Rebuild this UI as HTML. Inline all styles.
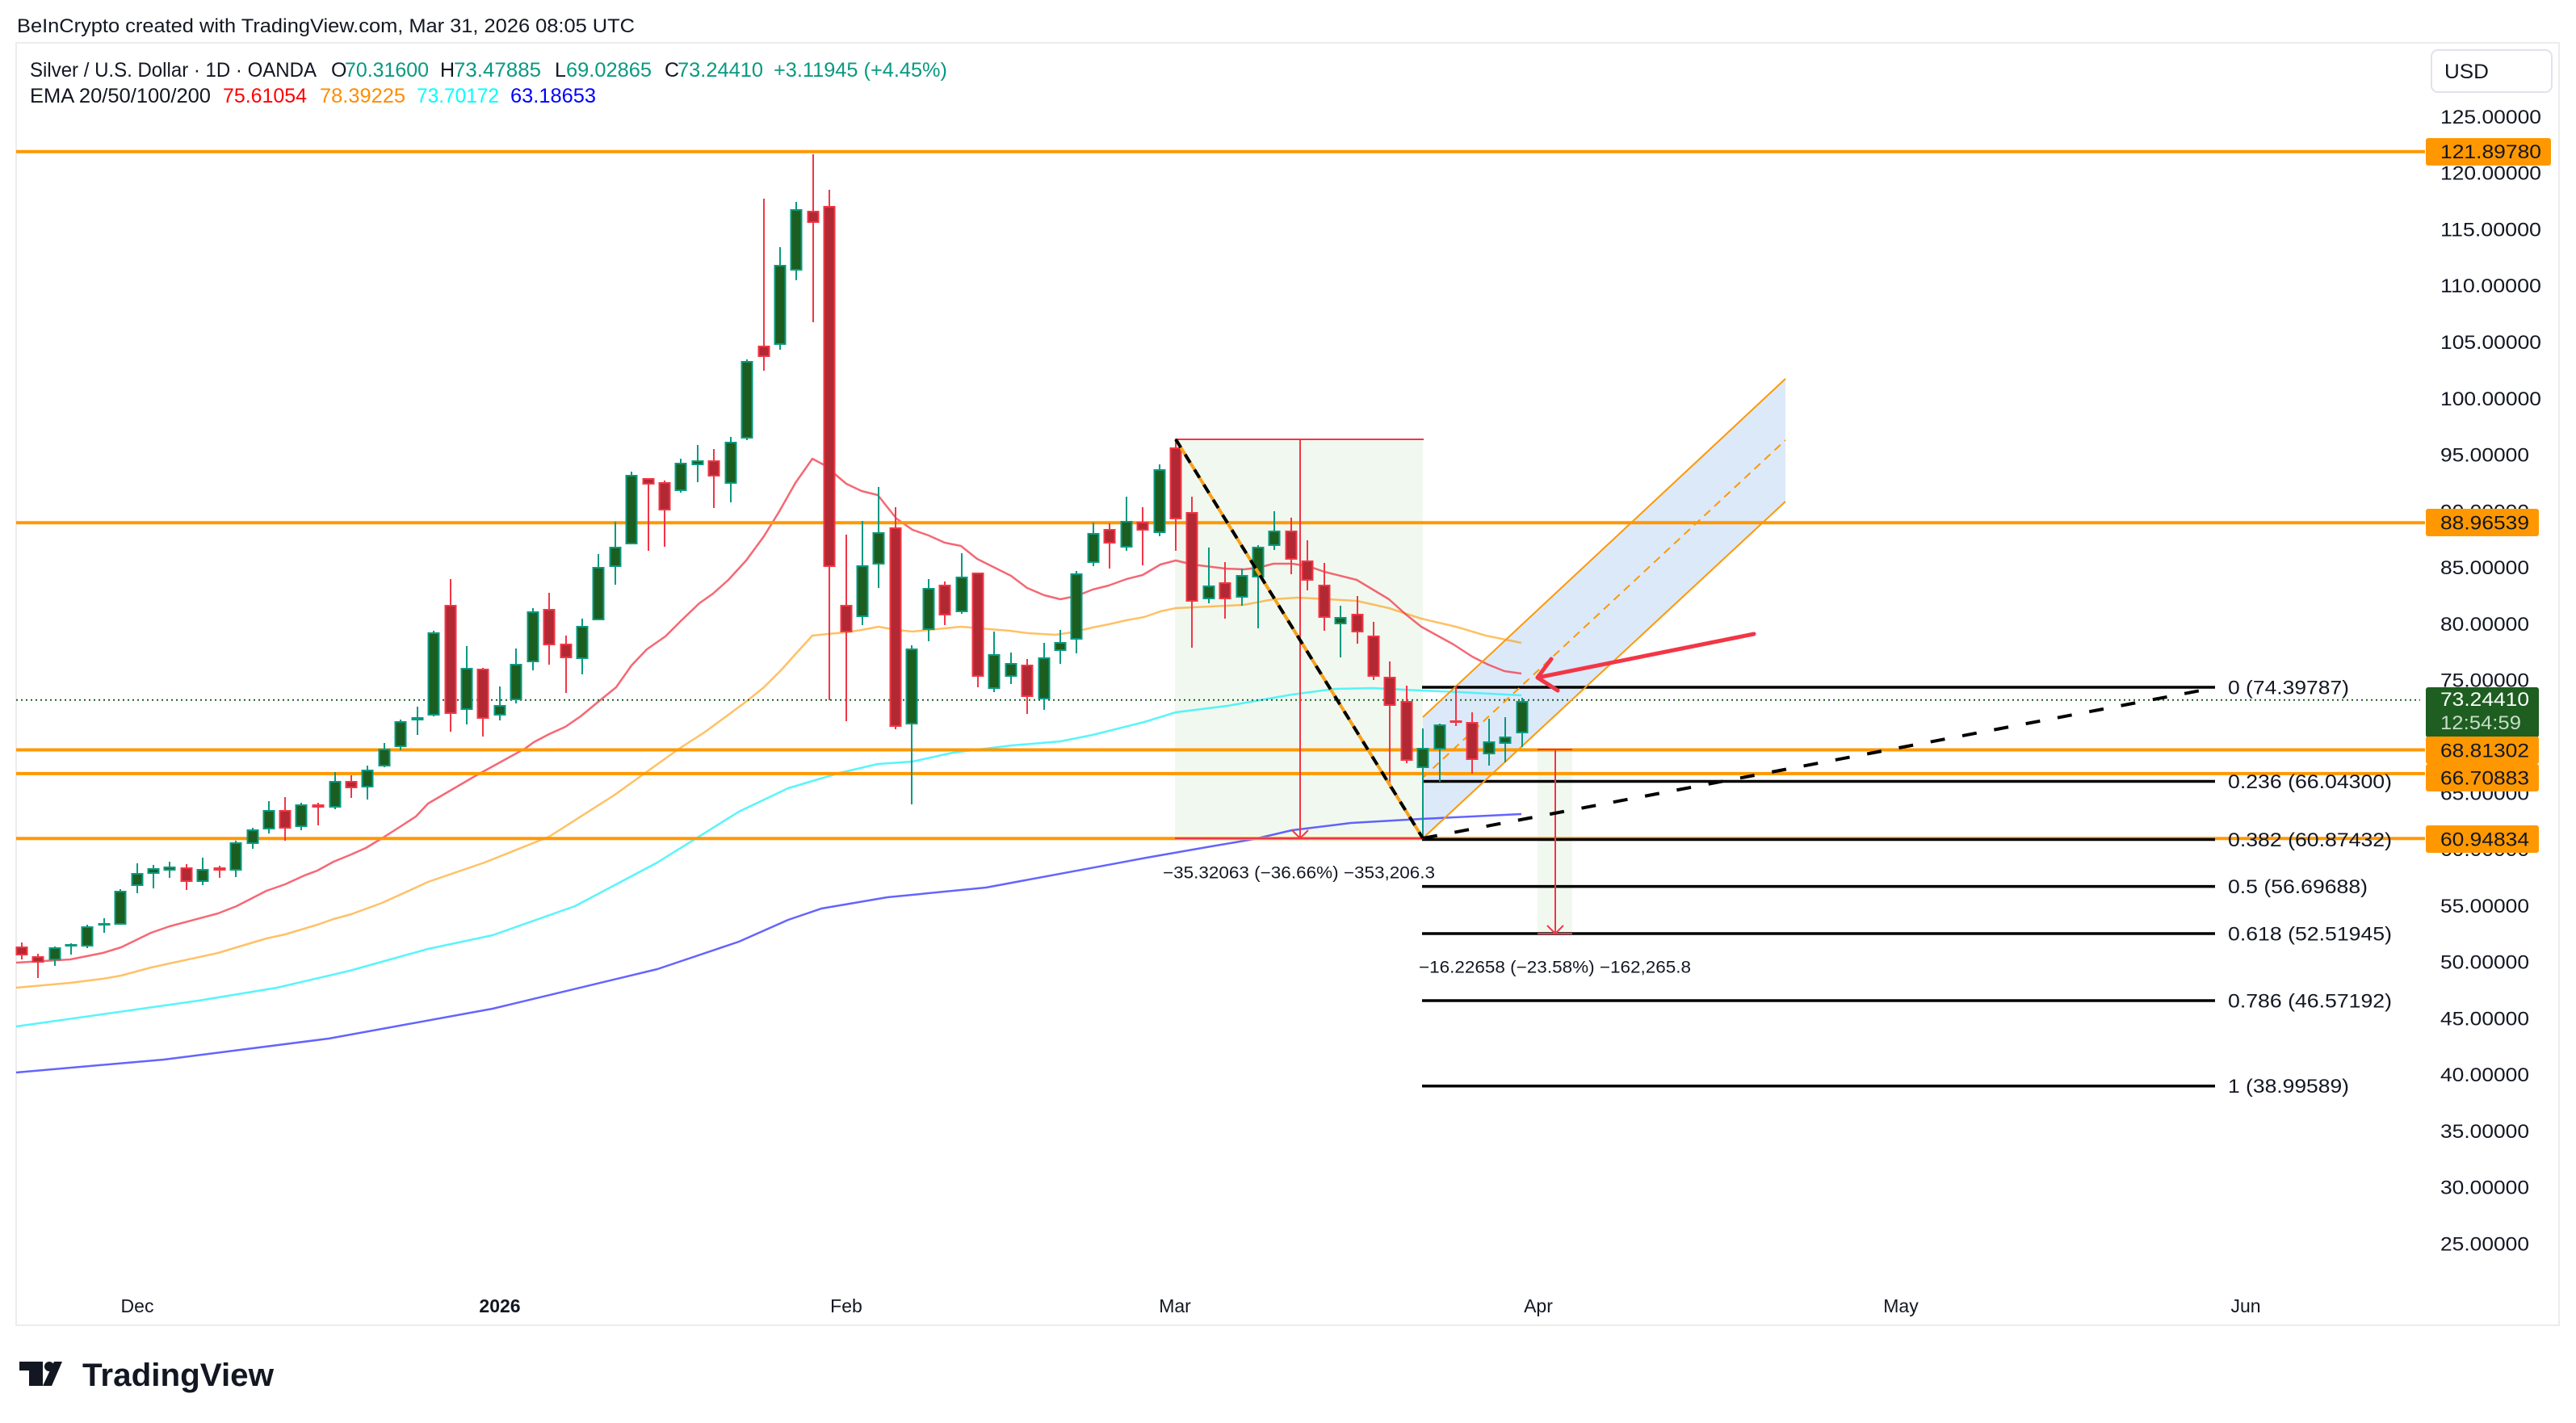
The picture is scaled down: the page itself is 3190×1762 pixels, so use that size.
<!DOCTYPE html>
<html>
<head>
<meta charset="utf-8">
<style>
html,body{margin:0;padding:0;background:#fff;}
svg{display:block;}
text{font-family:"Liberation Sans",Arial,sans-serif;}
.g line{stroke:#089981;stroke-width:2;}
.g rect{fill:#1b5e20;stroke:#089981;stroke-width:2;}
.r line{stroke:#f23645;stroke-width:2;}
.r rect{fill:#b22833;stroke:#f23645;stroke-width:2;}
.ax{font-size:24px;fill:#131722;}
.fib{font-size:24px;fill:#131722;}
</style>
</head>
<body>
<svg width="3190" height="1762" viewBox="0 0 3190 1762" xmlns="http://www.w3.org/2000/svg">
<rect x="0" y="0" width="3190" height="1762" fill="#ffffff"/>
<!-- header -->
<text x="21" y="40" font-size="24" fill="#131722" textLength="765" lengthAdjust="spacingAndGlyphs">BeInCrypto created with TradingView.com, Mar 31, 2026 08:05 UTC</text>
<!-- panel border -->
<rect x="20" y="53" width="3149" height="1588" fill="none" stroke="#ececec" stroke-width="2"/>

<!-- legend -->
<text x="37" y="95" font-size="25" fill="#131722" textLength="355" lengthAdjust="spacingAndGlyphs">Silver / U.S. Dollar · 1D · OANDA</text>
<text x="410" y="95" font-size="25" fill="#131722">O</text>
<text x="427" y="95" font-size="25" fill="#089981" textLength="104" lengthAdjust="spacingAndGlyphs">70.31600</text>
<text x="545" y="95" font-size="25" fill="#131722">H</text>
<text x="562" y="95" font-size="25" fill="#089981" textLength="108" lengthAdjust="spacingAndGlyphs">73.47885</text>
<text x="687" y="95" font-size="25" fill="#131722">L</text>
<text x="701" y="95" font-size="25" fill="#089981" textLength="106" lengthAdjust="spacingAndGlyphs">69.02865</text>
<text x="823" y="95" font-size="25" fill="#131722">C</text>
<text x="839" y="95" font-size="25" fill="#089981" textLength="106" lengthAdjust="spacingAndGlyphs">73.24410</text>
<text x="958" y="95" font-size="25" fill="#089981" textLength="215" lengthAdjust="spacingAndGlyphs">+3.11945 (+4.45%)</text>
<text x="37" y="127" font-size="25" fill="#131722" textLength="224" lengthAdjust="spacingAndGlyphs">EMA 20/50/100/200</text>
<text x="276" y="127" font-size="25" fill="#ff0000" textLength="104" lengthAdjust="spacingAndGlyphs">75.61054</text>
<text x="396" y="127" font-size="25" fill="#ff8c00" textLength="106" lengthAdjust="spacingAndGlyphs">78.39225</text>
<text x="516" y="127" font-size="25" fill="#00ffff" textLength="102" lengthAdjust="spacingAndGlyphs">73.70172</text>
<text x="632" y="127" font-size="25" fill="#0000ff" textLength="106" lengthAdjust="spacingAndGlyphs">63.18653</text>

<!-- measure box 1 fill -->
<rect x="1455" y="544" width="307" height="494" fill="#f1f8f0"/>
<!-- measure box 2 fill -->
<rect x="1904" y="928" width="43" height="228" fill="#f1f8f0"/>
<!-- channel fill -->
<polygon points="1762,888 2211,469 2211,621 1762,1038" fill="#dce9f9"/>

<!-- EMA lines -->
<polyline fill="none" stroke="#3030ff" stroke-opacity="0.75" stroke-width="2.5" stroke-linejoin="round" points="20,1328 203,1312 407,1286 610,1249 814,1200 915,1166 976,1139 1017,1125 1099,1111 1221,1099 1420,1062 1500,1048 1553,1039 1600,1028 1673,1019 1760,1014 1884,1008"/>
<polyline fill="none" stroke="#2ef2f8" stroke-opacity="0.8" stroke-width="2.5" stroke-linejoin="round" points="20,1271 246,1239 343,1223 433,1202 530,1175 610,1158 712,1122 814,1068 915,1005 976,976 1040,957 1087,946 1130,943 1180,932 1220,927 1253,923 1313,918 1353,910 1417,894 1456,882 1520,874 1600,860 1653,853 1700,852 1760,855 1807,857 1884,861"/>
<polyline fill="none" stroke="#ff9800" stroke-opacity="0.6" stroke-width="2.5" stroke-linejoin="round" points="20,1223 87,1217 127,1212 150,1208 187,1198 210,1193 270,1180 293,1173 330,1162 353,1157 393,1145 413,1138 435,1132 473,1118 515,1099 530,1092 600,1068 680,1036 760,985 841,927 872,907 902,885 925,868 946,851 968,829 985,810 1006,787 1025,785 1048,783 1067,780 1088,776 1110,780 1130,782 1150,780 1170,778 1190,776 1213,778 1250,781 1273,784 1307,786 1327,783 1353,777 1373,773 1395,768 1417,764 1437,757 1456,753 1540,749 1577,742 1607,740 1627,741 1680,744 1720,753 1760,766 1803,776 1840,787 1884,796"/>
<polyline fill="none" stroke="#f23645" stroke-opacity="0.75" stroke-width="2.5" stroke-linejoin="round" points="20,1192 87,1188 127,1180 150,1173 187,1155 210,1147 270,1131 293,1122 330,1103 353,1095 377,1084 393,1078 413,1067 435,1058 453,1050 473,1038 495,1024 515,1011 530,995 590,960 650,927 661,919 680,909 700,900 719,887 742,868 763,851 782,824 801,804 824,788 843,769 866,747 883,735 902,718 924,694 946,664 964,635 985,598 1006,568 1021,576 1048,599 1067,608 1087,613 1110,642 1130,656 1150,663 1170,672 1190,676 1210,692 1230,702 1252,713 1272,728 1293,737 1313,742 1333,738 1353,730 1373,725 1395,717 1415,712 1437,699 1456,694 1477,699 1517,704 1540,705 1558,703 1577,698 1600,698 1620,701 1640,708 1680,718 1720,742 1740,760 1760,776 1800,798 1823,813 1843,823 1863,831 1884,834"/>

<!-- horizontal orange levels -->
<g stroke="#ff9800" stroke-width="4">
<line x1="20" y1="187.7" x2="3003" y2="187.7"/>
<line x1="20" y1="647.3" x2="3003" y2="647.3"/>
<line x1="20" y1="928.5" x2="3003" y2="928.5"/>
<line x1="20" y1="957.9" x2="3003" y2="957.9"/>
<line x1="20" y1="1038.3" x2="3003" y2="1038.3"/>
</g>
<!-- current price dotted -->
<line x1="20" y1="866.7" x2="2997" y2="866.7" stroke="#1b5e20" stroke-width="2" stroke-dasharray="2 4"/>

<!-- fib lines -->
<g stroke="#000" stroke-width="3.5">
<line x1="1761" y1="851" x2="2743" y2="851"/>
<line x1="1761" y1="967.5" x2="2743" y2="967.5"/>
<line x1="1761" y1="1039.5" x2="2743" y2="1039.5"/>
<line x1="1761" y1="1097.6" x2="2743" y2="1097.6"/>
<line x1="1761" y1="1156" x2="2743" y2="1156"/>
<line x1="1761" y1="1239" x2="2743" y2="1239"/>
<line x1="1761" y1="1344.7" x2="2743" y2="1344.7"/>
</g>
<text class="fib" x="2759" y="859.5" textLength="150" lengthAdjust="spacingAndGlyphs">0 (74.39787)</text>
<text class="fib" x="2759" y="976" textLength="203" lengthAdjust="spacingAndGlyphs">0.236 (66.04300)</text>
<text class="fib" x="2759" y="1047.8" textLength="203" lengthAdjust="spacingAndGlyphs">0.382 (60.87432)</text>
<text class="fib" x="2759" y="1106" textLength="173" lengthAdjust="spacingAndGlyphs">0.5 (56.69688)</text>
<text class="fib" x="2759" y="1164.4" textLength="203" lengthAdjust="spacingAndGlyphs">0.618 (52.51945)</text>
<text class="fib" x="2759" y="1247.4" textLength="203" lengthAdjust="spacingAndGlyphs">0.786 (46.57192)</text>
<text class="fib" x="2759" y="1353.2" textLength="150" lengthAdjust="spacingAndGlyphs">1 (38.99589)</text>

<!-- channel lines -->
<line x1="1762" y1="888" x2="2211" y2="469" stroke="#ff9800" stroke-width="2"/>
<line x1="1762" y1="1038" x2="2211" y2="621" stroke="#ff9800" stroke-width="2"/>
<line x1="1762" y1="963" x2="2211" y2="545" stroke="#ff9800" stroke-width="2" stroke-dasharray="10 7"/>

<!-- candles -->
<g class="r"><line x1="27" y1="1167" x2="27" y2="1188"/><rect x="20.5" y="1173" width="13" height="9"/></g>
<g class="r"><line x1="47" y1="1181" x2="47" y2="1211"/><rect x="40.5" y="1185" width="13" height="6"/></g>
<g class="g"><line x1="68" y1="1172" x2="68" y2="1196"/><rect x="61.5" y="1174" width="13" height="14"/></g>
<g class="g"><line x1="88" y1="1168" x2="88" y2="1182"/><rect x="81.5" y="1170" width="13" height="1"/></g>
<g class="g"><line x1="108" y1="1145" x2="108" y2="1174"/><rect x="101.5" y="1148" width="13" height="23"/></g>
<g class="g"><line x1="129" y1="1137" x2="129" y2="1155"/><rect x="122.5" y="1144" width="13" height="1"/></g>
<g class="g"><line x1="149" y1="1101" x2="149" y2="1145"/><rect x="142.5" y="1104" width="13" height="40"/></g>
<g class="g"><line x1="170" y1="1069" x2="170" y2="1106"/><rect x="163.5" y="1082" width="13" height="14"/></g>
<g class="g"><line x1="190" y1="1071" x2="190" y2="1100"/><rect x="183.5" y="1076" width="13" height="5"/></g>
<g class="g"><line x1="210" y1="1067" x2="210" y2="1087"/><rect x="203.5" y="1074" width="13" height="3"/></g>
<g class="r"><line x1="231" y1="1070" x2="231" y2="1102"/><rect x="224.5" y="1075" width="13" height="16"/></g>
<g class="g"><line x1="251" y1="1062" x2="251" y2="1096"/><rect x="244.5" y="1077" width="13" height="14"/></g>
<g class="r"><line x1="272" y1="1072" x2="272" y2="1087"/><rect x="265.5" y="1075" width="13" height="2"/></g>
<g class="g"><line x1="292" y1="1041" x2="292" y2="1086"/><rect x="285.5" y="1044" width="13" height="33"/></g>
<g class="g"><line x1="313" y1="1025" x2="313" y2="1051"/><rect x="306.5" y="1028" width="13" height="16"/></g>
<g class="g"><line x1="333" y1="992" x2="333" y2="1032"/><rect x="326.5" y="1004" width="13" height="22"/></g>
<g class="r"><line x1="353" y1="987" x2="353" y2="1041"/><rect x="346.5" y="1004" width="13" height="21"/></g>
<g class="g"><line x1="373" y1="994" x2="373" y2="1028"/><rect x="366.5" y="997" width="13" height="26"/></g>
<g class="r"><line x1="394" y1="994" x2="394" y2="1022"/><rect x="387.5" y="997" width="13" height="2"/></g>
<g class="g"><line x1="415" y1="956" x2="415" y2="1002"/><rect x="408.5" y="968" width="13" height="31"/></g>
<g class="r"><line x1="435" y1="960" x2="435" y2="988"/><rect x="428.5" y="968" width="13" height="7"/></g>
<g class="g"><line x1="455" y1="948" x2="455" y2="990"/><rect x="448.5" y="954" width="13" height="20"/></g>
<g class="g"><line x1="476" y1="920" x2="476" y2="950"/><rect x="469.5" y="928" width="13" height="20"/></g>
<g class="g"><line x1="496" y1="891" x2="496" y2="929"/><rect x="489.5" y="894" width="13" height="30"/></g>
<g class="g"><line x1="517" y1="875" x2="517" y2="910"/><rect x="510.5" y="889" width="13" height="2"/></g>
<g class="g"><line x1="537" y1="781" x2="537" y2="887"/><rect x="530.5" y="784" width="13" height="101"/></g>
<g class="r"><line x1="558" y1="717" x2="558" y2="906"/><rect x="551.5" y="750" width="13" height="133"/></g>
<g class="g"><line x1="578" y1="800" x2="578" y2="897"/><rect x="571.5" y="828" width="13" height="50"/></g>
<g class="r"><line x1="598" y1="827" x2="598" y2="912"/><rect x="591.5" y="829" width="13" height="60"/></g>
<g class="g"><line x1="619" y1="850" x2="619" y2="892"/><rect x="612.5" y="874" width="13" height="11"/></g>
<g class="g"><line x1="639" y1="803" x2="639" y2="871"/><rect x="632.5" y="823" width="13" height="43"/></g>
<g class="g"><line x1="660" y1="753" x2="660" y2="830"/><rect x="653.5" y="758" width="13" height="61"/></g>
<g class="r"><line x1="680" y1="734" x2="680" y2="823"/><rect x="673.5" y="755" width="13" height="43"/></g>
<g class="r"><line x1="701" y1="787" x2="701" y2="858"/><rect x="694.5" y="798" width="13" height="16"/></g>
<g class="g"><line x1="721" y1="766" x2="721" y2="835"/><rect x="714.5" y="776" width="13" height="39"/></g>
<g class="g"><line x1="741" y1="686" x2="741" y2="768"/><rect x="734.5" y="703" width="13" height="64"/></g>
<g class="g"><line x1="762" y1="646" x2="762" y2="724"/><rect x="755.5" y="678" width="13" height="23"/></g>
<g class="g"><line x1="782" y1="584" x2="782" y2="674"/><rect x="775.5" y="589" width="13" height="84"/></g>
<g class="r"><line x1="803" y1="592" x2="803" y2="682"/><rect x="796.5" y="593" width="13" height="6"/></g>
<g class="r"><line x1="823" y1="595" x2="823" y2="677"/><rect x="816.5" y="598" width="13" height="33"/></g>
<g class="g"><line x1="843" y1="568" x2="843" y2="610"/><rect x="836.5" y="574" width="13" height="33"/></g>
<g class="g"><line x1="864" y1="551" x2="864" y2="597"/><rect x="857.5" y="571" width="13" height="4"/></g>
<g class="r"><line x1="884" y1="556" x2="884" y2="629"/><rect x="877.5" y="571" width="13" height="18"/></g>
<g class="g"><line x1="905" y1="541" x2="905" y2="622"/><rect x="898.5" y="548" width="13" height="50"/></g>
<g class="g"><line x1="925" y1="445" x2="925" y2="545"/><rect x="918.5" y="448" width="13" height="94"/></g>
<g class="r"><line x1="946" y1="246" x2="946" y2="459"/><rect x="939.5" y="429" width="13" height="12"/></g>
<g class="g"><line x1="966" y1="306" x2="966" y2="433"/><rect x="959.5" y="329" width="13" height="97"/></g>
<g class="g"><line x1="986" y1="250" x2="986" y2="347"/><rect x="979.5" y="260" width="13" height="74"/></g>
<g class="r"><line x1="1007" y1="191" x2="1007" y2="399"/><rect x="1000.5" y="262" width="13" height="13"/></g>
<g class="r"><line x1="1027" y1="235" x2="1027" y2="867"/><rect x="1020.5" y="256" width="13" height="445"/></g>
<g class="r"><line x1="1048" y1="662" x2="1048" y2="893"/><rect x="1041.5" y="750" width="13" height="32"/></g>
<g class="g"><line x1="1068" y1="645" x2="1068" y2="774"/><rect x="1061.5" y="701" width="13" height="62"/></g>
<g class="g"><line x1="1088" y1="603" x2="1088" y2="728"/><rect x="1081.5" y="660" width="13" height="38"/></g>
<g class="r"><line x1="1109" y1="628" x2="1109" y2="903"/><rect x="1102.5" y="654" width="13" height="245"/></g>
<g class="g"><line x1="1129" y1="799" x2="1129" y2="996"/><rect x="1122.5" y="804" width="13" height="92"/></g>
<g class="g"><line x1="1150" y1="717" x2="1150" y2="794"/><rect x="1143.5" y="729" width="13" height="50"/></g>
<g class="r"><line x1="1170" y1="720" x2="1170" y2="774"/><rect x="1163.5" y="725" width="13" height="36"/></g>
<g class="g"><line x1="1191" y1="685" x2="1191" y2="760"/><rect x="1184.5" y="715" width="13" height="42"/></g>
<g class="r"><line x1="1211" y1="709" x2="1211" y2="851"/><rect x="1204.5" y="710" width="13" height="127"/></g>
<g class="g"><line x1="1231" y1="782" x2="1231" y2="857"/><rect x="1224.5" y="811" width="13" height="41"/></g>
<g class="g"><line x1="1252" y1="808" x2="1252" y2="847"/><rect x="1245.5" y="822" width="13" height="15"/></g>
<g class="r"><line x1="1272" y1="816" x2="1272" y2="884"/><rect x="1265.5" y="824" width="13" height="38"/></g>
<g class="g"><line x1="1293" y1="796" x2="1293" y2="879"/><rect x="1286.5" y="815" width="13" height="50"/></g>
<g class="g"><line x1="1313" y1="780" x2="1313" y2="822"/><rect x="1306.5" y="796" width="13" height="9"/></g>
<g class="g"><line x1="1333" y1="707" x2="1333" y2="809"/><rect x="1326.5" y="711" width="13" height="80"/></g>
<g class="g"><line x1="1354" y1="647" x2="1354" y2="701"/><rect x="1347.5" y="661" width="13" height="35"/></g>
<g class="r"><line x1="1374" y1="648" x2="1374" y2="704"/><rect x="1367.5" y="656" width="13" height="16"/></g>
<g class="g"><line x1="1395" y1="615" x2="1395" y2="682"/><rect x="1388.5" y="646" width="13" height="31"/></g>
<g class="r"><line x1="1415" y1="628" x2="1415" y2="700"/><rect x="1408.5" y="647" width="13" height="9"/></g>
<g class="g"><line x1="1436" y1="575" x2="1436" y2="664"/><rect x="1429.5" y="582" width="13" height="77"/></g>
<g class="r"><line x1="1456" y1="544" x2="1456" y2="682"/><rect x="1449.5" y="555" width="13" height="87"/></g>
<g class="r"><line x1="1476" y1="615" x2="1476" y2="802"/><rect x="1469.5" y="635" width="13" height="109"/></g>
<g class="g"><line x1="1497" y1="678" x2="1497" y2="747"/><rect x="1490.5" y="726" width="13" height="15"/></g>
<g class="r"><line x1="1517" y1="696" x2="1517" y2="766"/><rect x="1510.5" y="722" width="13" height="19"/></g>
<g class="g"><line x1="1538" y1="704" x2="1538" y2="750"/><rect x="1531.5" y="713" width="13" height="26"/></g>
<g class="g"><line x1="1558" y1="675" x2="1558" y2="778"/><rect x="1551.5" y="678" width="13" height="36"/></g>
<g class="g"><line x1="1578" y1="633" x2="1578" y2="681"/><rect x="1571.5" y="658" width="13" height="17"/></g>
<g class="r"><line x1="1599" y1="641" x2="1599" y2="711"/><rect x="1592.5" y="658" width="13" height="34"/></g>
<g class="r"><line x1="1619" y1="669" x2="1619" y2="731"/><rect x="1612.5" y="695" width="13" height="23"/></g>
<g class="r"><line x1="1640" y1="697" x2="1640" y2="781"/><rect x="1633.5" y="725" width="13" height="39"/></g>
<g class="g"><line x1="1660" y1="750" x2="1660" y2="814"/><rect x="1653.5" y="765" width="13" height="7"/></g>
<g class="r"><line x1="1681" y1="738" x2="1681" y2="797"/><rect x="1674.5" y="761" width="13" height="21"/></g>
<g class="r"><line x1="1701" y1="770" x2="1701" y2="842"/><rect x="1694.5" y="788" width="13" height="49"/></g>
<g class="r"><line x1="1721" y1="819" x2="1721" y2="976"/><rect x="1714.5" y="839" width="13" height="34"/></g>
<g class="r"><line x1="1742" y1="849" x2="1742" y2="945"/><rect x="1735.5" y="869" width="13" height="72"/></g>
<g class="g"><line x1="1762" y1="902" x2="1762" y2="1039"/><rect x="1755.5" y="927" width="13" height="23"/></g>
<g class="g"><line x1="1783" y1="896" x2="1783" y2="968"/><rect x="1776.5" y="898" width="13" height="29"/></g>
<g class="r"><line x1="1803" y1="849" x2="1803" y2="899"/><rect x="1796.5" y="893" width="13" height="1"/></g>
<g class="r"><line x1="1823" y1="882" x2="1823" y2="958"/><rect x="1816.5" y="895" width="13" height="45"/></g>
<g class="g"><line x1="1844" y1="890" x2="1844" y2="948"/><rect x="1837.5" y="919" width="13" height="14"/></g>
<g class="g"><line x1="1864" y1="888" x2="1864" y2="944"/><rect x="1857.5" y="913" width="13" height="7"/></g>
<g class="g"><line x1="1885" y1="864" x2="1885" y2="925"/><rect x="1878.5" y="869" width="13" height="38"/></g>

<!-- measure box 1 lines -->
<g stroke="#f23645" stroke-width="2" fill="none">
<line x1="1455" y1="544" x2="1763" y2="544"/>
<line x1="1455" y1="1038" x2="1762" y2="1038"/>
<line x1="1610" y1="544" x2="1610" y2="1037"/>
<polyline points="1600,1028 1610,1038 1620,1028"/>
<line x1="1904" y1="928" x2="1947" y2="928"/>
<line x1="1904" y1="1156" x2="1947" y2="1156"/>
<line x1="1926" y1="928" x2="1926" y2="1155"/>
<polyline points="1916,1146 1926,1156 1936,1146"/>
</g>

<!-- diagonal orange + black dashed -->
<line x1="1456" y1="544" x2="1762" y2="1038" stroke="#f7a21b" stroke-width="4"/>
<line x1="1456" y1="544" x2="1762" y2="1038" stroke="#000" stroke-width="4" stroke-dasharray="12 10"/>
<!-- dashed trendline -->
<line x1="1762" y1="1038" x2="2741" y2="852" stroke="#000" stroke-width="4" stroke-dasharray="18 22"/>

<!-- red arrow -->
<g stroke="#f23645" stroke-width="5" stroke-linecap="round" stroke-linejoin="round" fill="none">
<line x1="2172" y1="785" x2="1904" y2="839"/>
<polyline points="1921,816 1904,839 1929,855"/>
</g>

<!-- measure texts -->
<text x="1440" y="1087.5" font-size="21" fill="#131722" textLength="337" lengthAdjust="spacingAndGlyphs">−35.32063 (−36.66%) −353,206.3</text>
<text x="1757" y="1204.5" font-size="21" fill="#131722" textLength="337" lengthAdjust="spacingAndGlyphs">−16.22658 (−23.58%) −162,265.8</text>

<!-- price axis -->
<rect x="3011" y="62" width="149" height="52" rx="8" fill="#fff" stroke="#e0e3eb" stroke-width="2"/>
<text x="3027" y="97" font-size="25" fill="#131722" textLength="55" lengthAdjust="spacingAndGlyphs">USD</text>
<g class="ax">
<text x="3022" y="153" textLength="125" lengthAdjust="spacingAndGlyphs">125.00000</text>
<text x="3022" y="222.7" textLength="125" lengthAdjust="spacingAndGlyphs">120.00000</text>
<text x="3022" y="292.5" textLength="125" lengthAdjust="spacingAndGlyphs">115.00000</text>
<text x="3022" y="362.2" textLength="125" lengthAdjust="spacingAndGlyphs">110.00000</text>
<text x="3022" y="432" textLength="125" lengthAdjust="spacingAndGlyphs">105.00000</text>
<text x="3022" y="501.8" textLength="125" lengthAdjust="spacingAndGlyphs">100.00000</text>
<text x="3022" y="571.6" textLength="110" lengthAdjust="spacingAndGlyphs">95.00000</text>
<text x="3022" y="641.4" textLength="110" lengthAdjust="spacingAndGlyphs">90.00000</text>
<text x="3022" y="711.1" textLength="110" lengthAdjust="spacingAndGlyphs">85.00000</text>
<text x="3022" y="780.9" textLength="110" lengthAdjust="spacingAndGlyphs">80.00000</text>
<text x="3022" y="850.7" textLength="110" lengthAdjust="spacingAndGlyphs">75.00000</text>
<text x="3022" y="920.5" textLength="110" lengthAdjust="spacingAndGlyphs">70.00000</text>
<text x="3022" y="990.3" textLength="110" lengthAdjust="spacingAndGlyphs">65.00000</text>
<text x="3022" y="1060" textLength="110" lengthAdjust="spacingAndGlyphs">60.00000</text>
<text x="3022" y="1129.8" textLength="110" lengthAdjust="spacingAndGlyphs">55.00000</text>
<text x="3022" y="1199.6" textLength="110" lengthAdjust="spacingAndGlyphs">50.00000</text>
<text x="3022" y="1269.4" textLength="110" lengthAdjust="spacingAndGlyphs">45.00000</text>
<text x="3022" y="1339.2" textLength="110" lengthAdjust="spacingAndGlyphs">40.00000</text>
<text x="3022" y="1408.9" textLength="110" lengthAdjust="spacingAndGlyphs">35.00000</text>
<text x="3022" y="1478.7" textLength="110" lengthAdjust="spacingAndGlyphs">30.00000</text>
<text x="3022" y="1548.5" textLength="110" lengthAdjust="spacingAndGlyphs">25.00000</text>
</g>
<!-- price badges -->
<rect x="3004" y="171" width="155" height="34" rx="3" fill="#ff9800"/>
<text class="ax" x="3022" y="196" textLength="125" lengthAdjust="spacingAndGlyphs">121.89780</text>
<rect x="3004" y="630" width="140" height="34" rx="3" fill="#ff9800"/>
<text class="ax" x="3022" y="655.5" textLength="110" lengthAdjust="spacingAndGlyphs">88.96539</text>
<rect x="3004" y="851" width="140" height="62" rx="3" fill="#1e5e20"/>
<text x="3022" y="874" font-size="24" fill="#ffffff" textLength="110" lengthAdjust="spacingAndGlyphs">73.24410</text>
<text x="3022" y="903" font-size="24" fill="#c8dcc9" textLength="100" lengthAdjust="spacingAndGlyphs">12:54:59</text>
<rect x="3004" y="912" width="140" height="34" rx="3" fill="#ff9800"/>
<text class="ax" x="3022" y="937.5" textLength="110" lengthAdjust="spacingAndGlyphs">68.81302</text>
<rect x="3004" y="946" width="140" height="34" rx="3" fill="#ff9800"/>
<text class="ax" x="3022" y="971.5" textLength="110" lengthAdjust="spacingAndGlyphs">66.70883</text>
<rect x="3004" y="1022" width="140" height="34" rx="3" fill="#ff9800"/>
<text class="ax" x="3022" y="1047.5" textLength="110" lengthAdjust="spacingAndGlyphs">60.94834</text>

<!-- time axis -->
<g font-size="23" fill="#131722" text-anchor="middle">
<text x="170" y="1625">Dec</text>
<text x="619" y="1625" font-weight="bold">2026</text>
<text x="1048" y="1625">Feb</text>
<text x="1455" y="1625">Mar</text>
<text x="1905" y="1625">Apr</text>
<text x="2354" y="1625">May</text>
<text x="2781" y="1625">Jun</text>
</g>

<!-- TradingView logo -->
<g fill="#131722">
<rect x="24" y="1686" width="29" height="11"/>
<rect x="36" y="1686" width="17" height="30"/>
<circle cx="61" cy="1692" r="6"/>
<polygon points="67,1686 77,1686 64,1716 53,1716"/>
</g>
<text x="102" y="1716" font-size="40" font-weight="bold" fill="#131722" textLength="237" lengthAdjust="spacingAndGlyphs">TradingView</text>
</svg>
</body>
</html>
